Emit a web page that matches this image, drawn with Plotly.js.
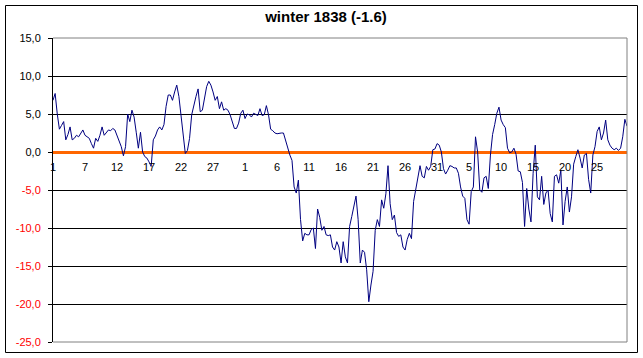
<!DOCTYPE html>
<html>
<head>
<meta charset="utf-8">
<script src="https://cdn.plot.ly/plotly-3.0.1.min.js"></script>
<style>
  html, body { margin: 0; padding: 0; background: #fff; }
  #chart { width: 643px; height: 358px; }
</style>
</head>
<body>
<div id="chart"></div>
<script>
// Temperature observations (3 per day), winter 1838
const temperatures = [
  6.8, 7.7, 5.0, 3.0, 3.5, 4.0, 1.6, 2.3, 3.3, 1.6,
  1.8, 2.2, 2.0, 2.5, 2.9, 2.2, 2.0, 1.8, 1.1, 0.5,
  1.8, 1.4, 2.2, 3.3, 2.2, 2.6, 2.9, 2.8, 3.1, 2.9,
  2.2, 1.6, 0.7, -0.5, 0.7, 5.0, 4.0, 5.5, 4.6, 2.6,
  0.5, 2.6, 0.0, -0.6, -0.8, -1.3, -1.9, 1.6, 2.1, 2.9,
  3.3, 2.9, 3.6, 6.0, 7.5, 7.5, 6.8, 7.9, 8.8, 7.3,
  4.9, 2.5, -0.2, 0.2, 1.8, 4.9, 6.3, 7.3, 8.3, 5.3,
  5.5, 7.3, 8.6, 9.3, 8.8, 7.9, 6.8, 7.3, 5.7, 6.6,
  5.5, 5.7, 5.5, 4.9, 4.0, 3.1, 3.1, 3.8, 5.1, 5.5,
  4.4, 5.0, 4.9, 4.6, 5.1, 4.9, 4.8, 5.7, 4.8, 4.9,
  6.1, 4.9, 3.0, 2.8, 2.5, 2.4, 2.5, 2.5, 2.5, 1.5,
  0.5, -0.4, -1.1, -4.6, -5.4, -3.7, -8.9, -11.7, -10.7, -10.9,
  -10.9, -10.2, -10.0, -12.7, -7.5, -8.6, -10.3, -9.8, -10.9, -11.0,
  -10.9, -12.5, -12.9, -11.8, -12.5, -14.6, -11.8, -13.8, -14.6, -9.8,
  -8.5, -7.0, -5.8, -8.9, -14.6, -12.9, -13.2, -15.5, -19.7, -17.5,
  -15.7, -10.3, -8.9, -9.8, -6.3, -7.4, -5.5, -1.8, -6.8, -8.9,
  -8.3, -10.6, -11.1, -10.9, -12.5, -12.9, -11.5, -10.7, -11.4, -6.5,
  -5.0, -3.2, -1.8, -3.2, -3.4, -1.9, -2.4, -1.9, 0.3, 0.4,
  1.1, 0.9, 0.0, -2.2, -2.9, -2.4, -1.8, -1.9, -2.1, -2.1,
  -2.8, -4.6, -5.8, -6.1, -8.9, -9.5, -5.2, -4.6, 2.0, 0.0,
  -5.0, -5.3, -3.4, -3.2, -4.8, -0.4, 2.3, 3.6, 5.1, 5.9,
  4.2, 3.6, 3.2, 0.5, -0.1, 0.0, 0.5, -0.3, -2.5, -2.6,
  -4.0, -9.8, -4.8, -7.5, -9.2, -2.8, 0.9, -5.9, -6.3, -3.2,
  -6.9, -5.4, -5.0, -8.1, -9.2, -3.2, -3.0, -4.1, -2.4, -9.6,
  -6.5, -4.6, -7.9, -5.9, -1.6, -0.6, 0.3, -0.8, -2.1, -0.4,
  -0.2, -3.6, -5.4, -0.4, 0.7, 2.7, 3.3, 1.6, 2.5, 4.2,
  1.6, 0.9, 0.5, 0.3, 0.5, 0.2, 0.5, 2.0, 4.3, 3.4
];

// Category tick labels (day of month), one every 15 observations
const xTickLabels = ['1', '7', '12', '17', '22', '27', '1', '6', '11', '16', '21', '26', '31', '5', '10', '15', '20', '25'];
const xTickStep = 15;

// Y axis ticks
const yTickValues = [15, 10, 5, 0, -5, -10, -15, -20, -25];
const yTickLabels = ['15,0', '10,0', '5,0', '0,0', '-5,0', '-10,0', '-15,0', '-20,0', '-25,0'];

const chartTitle = 'winter 1838 (-1.6)';

// ---- build ----
const xIdx = temperatures.map((_, i) => i);
const xTickVals = xTickLabels.map((_, k) => k * xTickStep);

const posVals = [], posText = [], negVals = [], negText = [];
yTickValues.forEach((v, i) => {
  if (v >= 0) { posVals.push(v); posText.push(yTickLabels[i]); }
  else { negVals.push(v); negText.push(yTickLabels[i]); }
});

const FONT = '"Liberation Sans", Arial, Helvetica, sans-serif';
const yMin = -25, yMax = 15;

const traces = [
  {
    x: xIdx, y: temperatures, type: 'scatter', mode: 'lines',
    line: { color: '#000080', width: 1 },
    hoverinfo: 'skip', showlegend: false
  },
  {
    x: [null], y: [null], type: 'scatter', mode: 'lines', yaxis: 'y2',
    hoverinfo: 'skip', showlegend: false
  }
];

const L = 53, R = 16, T = 38, B = 16, W = 643, H = 358;
const pw = W - L - R, ph = H - T - B;
const px = p => (p - L) / pw;
const py = p => (H - B - p) / ph;

const layout = {
  width: W, height: H,
  margin: { l: L, r: R, t: T, b: B, pad: 0 },
  paper_bgcolor: '#ffffff', plot_bgcolor: '#ffffff',
  font: { family: FONT, size: 11, color: '#000000' },
  showlegend: false,
  title: {
    text: '<b>' + chartTitle + '</b>',
    font: { family: FONT, size: 15, color: '#000000' },
    x: 326 / W, xref: 'container', xanchor: 'center',
    y: 1 - 17 / H, yref: 'container', yanchor: 'middle'
  },
  xaxis: {
    range: [0, temperatures.length - 1],
    anchor: 'free', position: (0 - yMin) / (yMax - yMin),
    showgrid: false, zeroline: false, showline: false,
    ticks: '', tickmode: 'array', tickvals: xTickVals, ticktext: xTickLabels,
    tickangle: 0, ticklabelstandoff: 7,
    tickfont: { family: FONT, size: 11, color: '#000000' },
    fixedrange: true
  },
  yaxis: {
    range: [yMin, yMax], anchor: 'x',
    tickmode: 'array', tickvals: posVals.concat(negVals),
    ticktext: posText.concat(negVals.map(() => '')),
    showgrid: true, gridcolor: '#000000', gridwidth: 1,
    zeroline: true, zerolinecolor: '#FF6600', zerolinewidth: 3,
    showline: true, linecolor: '#000000', linewidth: 1,
    ticks: 'outside', ticklen: 4, tickcolor: '#000000', tickwidth: 1,
    ticklabelstandoff: 5,
    tickfont: { family: FONT, size: 11, color: '#000000' },
    fixedrange: true
  },
  yaxis2: {
    range: [yMin, yMax], overlaying: 'y', side: 'left', anchor: 'x',
    tickmode: 'array', tickvals: negVals, ticktext: negText,
    showgrid: false, zeroline: false, showline: false,
    ticks: 'outside', ticklen: 4, tickcolor: '#000000', tickwidth: 1,
    ticklabelstandoff: 5,
    tickfont: { family: FONT, size: 11, color: '#FF0000' },
    fixedrange: true
  },
  shapes: [
    { type: 'line', xref: 'paper', yref: 'paper', x0: 0, x1: 1, y0: 1, y1: 1, line: { color: '#808080', width: 1 }, layer: 'above' },
    { type: 'line', xref: 'paper', yref: 'paper', x0: 0, x1: 1, y0: 0, y1: 0, line: { color: '#808080', width: 1 }, layer: 'above' },
    { type: 'line', xref: 'paper', yref: 'paper', x0: 1, x1: 1, y0: 0, y1: 1, line: { color: '#808080', width: 1 }, layer: 'above' },
    { type: 'rect', xref: 'paper', yref: 'paper', x0: px(5.5), x1: px(637.5), y0: py(352.5), y1: py(5.5),
      line: { color: '#000000', width: 1 }, fillcolor: 'rgba(0,0,0,0)', layer: 'above' }
  ]
};

Plotly.newPlot('chart', traces, layout, { staticPlot: true, displayModeBar: false });
</script>
</body>
</html>
